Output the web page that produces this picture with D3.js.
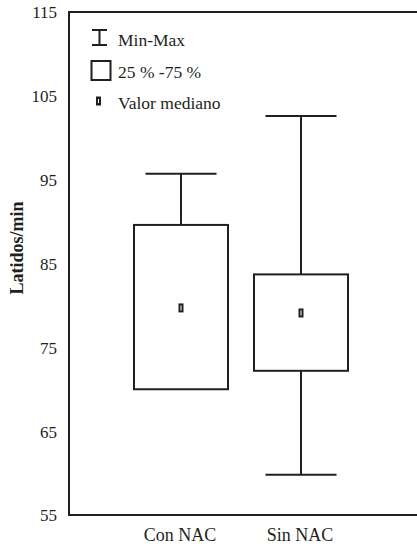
<!DOCTYPE html>
<html>
<head>
<meta charset="utf-8">
<script src="https://cdn.jsdelivr.net/npm/d3@7"></script>
<style>
  body { margin: 0; background: #fff; }
</style>
</head>
<body>
<div id="chart"></div>
<script>
// data
const groups = ["Con NAC", "Sin NAC"];
const mins = [70.0, 59.8];
const q1s = [70.0, 72.2];
const medians = [79.7, 79.1];
const q3s = [89.6, 83.7];
const maxs = [95.7, 102.6];
const yTicks = [55, 65, 75, 85, 95, 105, 115];
const legendLabels = ["Min-Max", "25 % -75 %", "Valor mediano"];

const W = 417, H = 550;
const margin = { top: 12, left: 69, bottom: 35 };
const ink = "#231f20";
const serif = "Liberation Serif";

const svg = d3.select("#chart").append("svg")
    .attr("width", W)
    .attr("height", H);

const y = d3.scaleLinear().domain([55, 115]).range([H - margin.bottom, margin.top]);
const x = d3.scalePoint().domain(groups).range([181, 301]);
const boxW = 94, capW = 71;

// frame: left, top, bottom lines
svg.append("path")
    .attr("d", `M${W},${y(115)}H${margin.left}V${y(55)}H${W}`)
    .attr("fill", "none")
    .attr("stroke", ink)
    .attr("stroke-width", 2);

// y labels
svg.selectAll(".ytick")
    .data(yTicks)
    .enter().append("text")
    .attr("class", "ytick")
    .attr("x", 57)
    .attr("y", d => y(d))
    .attr("dy", "0.38em")
    .attr("text-anchor", "end")
    .attr("font-family", serif)
    .attr("font-size", 17)
    .attr("fill", ink)
    .text(d => d);

svg.append("text")
    .attr("transform", "translate(23,248) rotate(-90)")
    .attr("text-anchor", "middle")
    .attr("font-family", serif)
    .attr("font-size", 18)
    .attr("font-weight", "bold")
    .attr("fill", ink)
    .text("Latidos/min");

// x labels
svg.selectAll(".xlab")
    .data(groups)
    .enter().append("text")
    .attr("class", "xlab")
    .attr("x", d => x(d) - 1)
    .attr("y", 541)
    .attr("text-anchor", "middle")
    .attr("font-family", serif)
    .attr("font-size", 18)
    .attr("fill", ink)
    .text(d => d);

// boxes
const g = svg.selectAll(".box")
    .data(groups)
    .enter().append("g")
    .attr("class", "box");

// whiskers
g.append("line")
    .attr("x1", d => x(d)).attr("x2", d => x(d))
    .attr("y1", (d, i) => y(maxs[i]))
    .attr("y2", (d, i) => y(q3s[i]))
    .attr("stroke", ink).attr("stroke-width", 2);
g.append("line")
    .attr("x1", d => x(d)).attr("x2", d => x(d))
    .attr("y1", (d, i) => y(q1s[i]))
    .attr("y2", (d, i) => y(mins[i]))
    .attr("stroke", ink).attr("stroke-width", 2);
g.append("line")
    .attr("x1", d => x(d) - capW / 2).attr("x2", d => x(d) + capW / 2)
    .attr("y1", (d, i) => y(maxs[i])).attr("y2", (d, i) => y(maxs[i]))
    .attr("stroke", ink).attr("stroke-width", 2);
g.filter((d, i) => mins[i] < q1s[i]).append("line")
    .attr("x1", d => x(d) - capW / 2).attr("x2", d => x(d) + capW / 2)
    .attr("y1", d => y(mins[groups.indexOf(d)]))
    .attr("y2", d => y(mins[groups.indexOf(d)]))
    .attr("stroke", ink).attr("stroke-width", 2);

g.append("rect")
    .attr("x", d => x(d) - boxW / 2)
    .attr("y", (d, i) => y(q3s[i]))
    .attr("width", boxW)
    .attr("height", (d, i) => y(q1s[i]) - y(q3s[i]))
    .attr("fill", "#fff")
    .attr("stroke", ink).attr("stroke-width", 2);

// median marker
g.append("rect")
    .attr("x", d => x(d) - 1.5)
    .attr("y", (d, i) => y(medians[i]) - 3.5)
    .attr("width", 3)
    .attr("height", 7)
    .attr("fill", "#fff")
    .attr("stroke", ink).attr("stroke-width", 2);

// legend
const lg = svg.append("g");
lg.append("path")
    .attr("d", "M92,30H107M99.5,30V45M92,45H107")
    .attr("fill", "none").attr("stroke", ink).attr("stroke-width", 2);
lg.append("rect")
    .attr("x", 91.5).attr("y", 61).attr("width", 19).attr("height", 19)
    .attr("fill", "none").attr("stroke", ink).attr("stroke-width", 2);
lg.append("rect")
    .attr("x", 97).attr("y", 97.5).attr("width", 3).attr("height", 7)
    .attr("fill", "#fff").attr("stroke", ink).attr("stroke-width", 2);
lg.selectAll(".ltext")
    .data(legendLabels)
    .enter().append("text")
    .attr("class", "ltext")
    .attr("x", 118)
    .attr("y", (d, i) => 46 + i * 31.5)
    .attr("font-family", serif)
    .attr("font-size", 17.5)
    .attr("fill", ink)
    .text(d => d);
</script>
</body>
</html>
